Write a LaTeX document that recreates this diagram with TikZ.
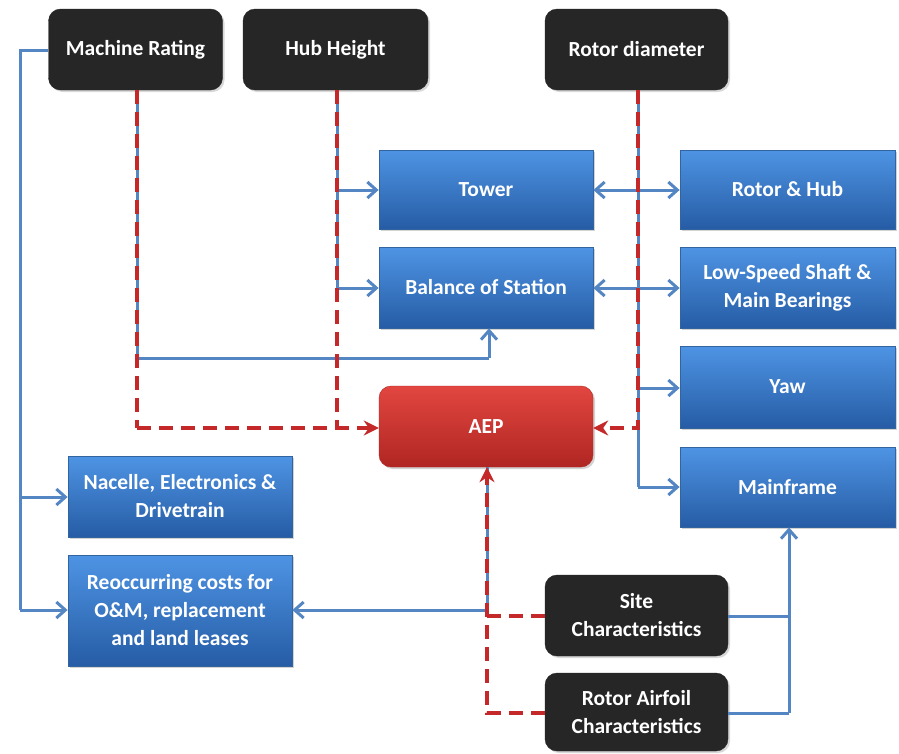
\documentclass[tikz,border=0pt]{standalone}
\usepackage{fontspec}
\setmainfont{Carlito}
\usetikzlibrary{arrows.meta,shadows}
\definecolor{lnblue}{RGB}{84,134,196}
\definecolor{lnred}{RGB}{196,40,40}
\definecolor{bxtop}{RGB}{78,148,228}
\definecolor{bxbot}{RGB}{38,92,165}
\definecolor{bxedge}{RGB}{50,100,160}
\definecolor{blk}{RGB}{38,38,38}
\definecolor{rdtop}{RGB}{226,70,64}
\definecolor{rdbot}{RGB}{176,38,34}
\tikzset{
  lbl/.style={text=white,font=\fontsize{21.5}{28}\selectfont\bfseries,align=center,inner sep=2pt},
  bluebox/.style={lbl,draw=bxedge,line width=0.8pt,top color=bxtop,bottom color=bxbot,drop shadow={opacity=0.35,shadow xshift=2pt,shadow yshift=-2pt}},
  blackbox/.style={lbl,draw=blk,fill=blk,rounded corners=12pt,drop shadow={opacity=0.3,shadow xshift=2pt,shadow yshift=-2pt}},
  redbox/.style={lbl,draw=rdbot,rounded corners=12pt,top color=rdtop,bottom color=rdbot,drop shadow={opacity=0.35,shadow xshift=2pt,shadow yshift=-2pt}},
  bl/.style={draw=lnblue,line width=3pt},
  bla/.style={bl,-{Straight Barb[length=9pt,width=16pt,line width=3pt]}},
  blaa/.style={bl,{Straight Barb[length=9pt,width=16pt,line width=3pt]}-{Straight Barb[length=9pt,width=16pt,line width=3pt]}},
  rd/.style={draw=lnred,line width=3.4pt,dash pattern=on 14pt off 8pt},
  rda/.style={rd,-{Stealth[length=15pt,width=15pt,inset=5pt]}},
}
\begin{document}
\begin{tikzpicture}[x=1pt,y=-1pt]
\useasboundingbox[fill=white] (0,0) rectangle (899,753);
% nodes
\node[blackbox,minimum width=174pt,minimum height=81pt] (mr) at (135.5,49.5) {Machine Rating};
\node[blackbox,minimum width=185pt,minimum height=81pt] (hh) at (335.5,49.5) {Hub Height};
\node[blackbox,minimum width=183pt,minimum height=81pt] (rd) at (636.5,49.5) {Rotor diameter};
\node[bluebox,minimum width=214pt,minimum height=79pt] (tw) at (486,189.5) {Tower};
\node[bluebox,minimum width=214pt,minimum height=81pt] (bos) at (486,287.5) {Balance of Station};
\node[bluebox,minimum width=215pt,minimum height=79pt] (rh) at (787.5,189.5) {Rotor \& Hub};
\node[bluebox,minimum width=215pt,minimum height=81pt] (lss) at (787.5,287.5) {Low-Speed Shaft \&\\Main Bearings};
\node[bluebox,minimum width=215pt,minimum height=82pt] (yaw) at (787.5,387) {Yaw};
\node[bluebox,minimum width=215pt,minimum height=80pt] (mf) at (787.5,487) {Mainframe};
\node[redbox,minimum width=214pt,minimum height=81pt] (aep) at (486,426.5) {AEP};
\node[bluebox,minimum width=224pt,minimum height=81pt] (nac) at (180,496.5) {Nacelle, Electronics \&\\Drivetrain};
\node[bluebox,minimum width=224pt,minimum height=111pt] (reo) at (180,610.5) {Reoccurring costs for\\O\&M, replacement\\and land leases};
\node[blackbox,minimum width=183pt,minimum height=81pt] (site) at (636.5,615.5) {Site\\Characteristics};
\node[blackbox,minimum width=183pt,minimum height=78pt] (air) at (636.5,712) {Rotor Airfoil\\Characteristics};
% coordinates
\coordinate (mrL) at (20,50);
\coordinate (mrN) at (20,497);
\coordinate (mrR) at (20,610);
\coordinate (mrB) at (137,358);
\coordinate (bosB) at (489,358);
\coordinate (mrD) at (137,428);
\coordinate (hhT) at (337,190);
\coordinate (hhB) at (337,288);
\coordinate (hhD) at (337,428);
\coordinate (rdY) at (638,388);
\coordinate (rdM) at (638,487);
\coordinate (rdD) at (638,428);
\coordinate (aepB) at (487,610);
\coordinate (siteD) at (487,616);
\coordinate (airD) at (487,713);
\coordinate (mfS) at (789,616);
\coordinate (mfA) at (789,713);
% blue connectors
\draw[bl] (mr.west |- 0,50) -- (mrL) -- (mrR);
\draw[bla] (mrR) -- (reo.west |- mrR);
\draw[bla] (mrN) -- (nac.west |- mrN);
\draw[bl] (137,90) -- (mrB) -- (bosB);
\draw[bla] (bosB) -- (bos.south -| bosB);
\draw[bl] (337,90) -- (hhB);
\draw[bla] (hhB) -- (bos.west |- hhB);
\draw[bla] (hhT) -- (tw.west |- hhT);
\draw[bl] (638,90) -- (rdM);
\draw[bla] (rdM) -- (mf.west |- rdM);
\draw[bla] (rdY) -- (yaw.west |- rdY);
\draw[blaa] (tw.east |- 0,190) -- (rh.west |- 0,190);
\draw[blaa] (bos.east |- 0,288) -- (lss.west |- 0,288);
\draw[bl] (aep.south -| aepB) -- (aepB);
\draw[bla] (aepB) -- (reo.east |- aepB);
\draw[bl] (site.east |- mfS) -- (mfS);
\draw[bl] (air.east |- mfA) -- (mfA);
\draw[bla] (mfA) -- (mf.south -| mfA);
% red dashed connectors
\draw[rd] (137,90) -- (mrD);
\draw[rda] (mrD) -- (aep.west |- mrD);
\draw[rd] (337,90) -- (hhD);
\draw[rda] (638,90) -- (rdD) -- (aep.east |- rdD);
\draw[rd] (site.west |- siteD) -- (siteD);
\draw[rda] (air.west |- airD) -- (airD) -- (aep.south -| airD);
\end{tikzpicture}
\end{document}
